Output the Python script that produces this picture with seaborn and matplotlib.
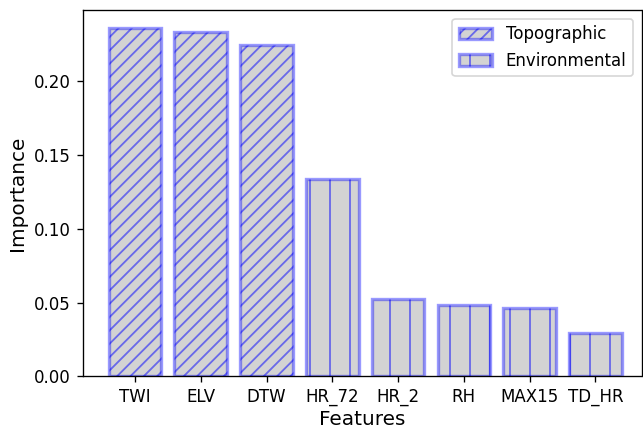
import matplotlib
matplotlib.use("Agg")
import matplotlib.pyplot as plt
import seaborn as sns
import pandas as pd
from matplotlib.patches import Patch

features = ["TWI", "ELV", "DTW", "HR_72", "HR_2", "RH", "MAX15", "TD_HR"]
importance = [0.2363, 0.2336, 0.2248, 0.1335, 0.0523, 0.0483, 0.0464, 0.0295]
groups = ["Topographic", "Topographic", "Topographic",
          "Environmental", "Environmental", "Environmental", "Environmental", "Environmental"]
group_order = ["Topographic", "Environmental"]

hatches = {"Topographic": "///", "Environmental": "|"}
edge = (0.0, 0.0, 1.0, 0.4)
hatch_rgba = (0.0, 0.0, 1.0, 0.5)
edge_lw = 2.0

df = pd.DataFrame({"Features": features, "Importance": importance, "Group": groups})

plt.rcParams["font.family"] = ["DejaVu Sans"]
plt.rcParams["hatch.linewidth"] = 1.1


def style_bar(patch, grp):
    patch.set_hatch(hatches[grp])
    patch.set_edgecolor(edge)
    patch.set_linewidth(edge_lw)
    patch._hatch_color = hatch_rgba


dpi = 120
fig, ax = plt.subplots(figsize=(643 / dpi, 429 / dpi), dpi=dpi)
sns.barplot(data=df, x="Features", y="Importance", hue="Group", hue_order=group_order,
            dodge=False, palette={g: "lightgray" for g in group_order},
            width=0.8, legend=False, ax=ax)

for container, grp in zip(ax.containers, group_order):
    for bar in container:
        style_bar(bar, grp)

handles = []
for g in group_order:
    h = Patch(facecolor="lightgray", label=g)
    style_bar(h, g)
    handles.append(h)
ax.legend(handles=handles, loc="upper right", fontsize=10)

ax.set_xlabel("Features", fontsize=12, labelpad=2.5)
ax.set_ylabel("Importance", fontsize=12)
ax.tick_params(labelsize=10)
ax.set_yticks([0.0, 0.05, 0.10, 0.15, 0.20])
ax.set_yticklabels(["0.00", "0.05", "0.10", "0.15", "0.20"])
ax.set_xlim(-0.795, 7.70)
ax.set_ylim(0, max(importance) * 1.05)
ax.grid(False)
for s in ax.spines.values():
    s.set_visible(True)
    s.set_color("black")
    s.set_linewidth(0.8)

fig.subplots_adjust(left=82.7 / 643, right=641.5 / 643,
                    top=1 - 10.3 / 429, bottom=1 - 376.3 / 429)
fig.savefig("out.png", dpi=dpi)
